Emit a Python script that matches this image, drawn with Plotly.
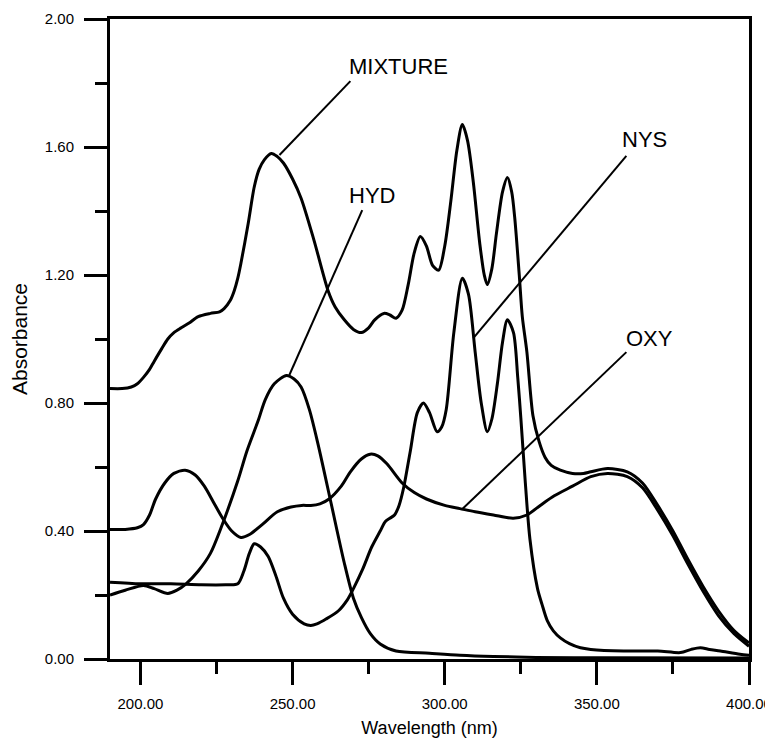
import plotly.graph_objects as go

# ---- data ----
mix_x = [190, 194, 197, 199, 201, 203, 204.5, 207, 209, 211, 213.4, 216, 219, 223, 226, 227.5, 229.5,
         230.8, 232, 233, 235.4, 237.4, 239, 240.7, 243, 245, 247, 250, 252.8, 257, 261.7, 264, 267,
         270, 272.6, 275, 277, 280, 282, 284, 286, 288, 290, 292, 294, 296, 298, 300, 302, 304, 305.8,
         307.5, 309.4, 311.5, 313, 314, 315.5, 317, 319, 320.6, 322, 323, 324.5, 325.5, 327, 329, 331,
         333, 335, 338, 342, 345.6, 348, 353.5, 360, 365, 370, 375, 380, 385, 390, 395, 400]
mix_y = [0.845, 0.845, 0.85, 0.86, 0.88, 0.905, 0.93, 0.97, 1.00, 1.02, 1.035, 1.05, 1.07, 1.08, 1.085,
         1.095, 1.12, 1.15, 1.19, 1.235, 1.36, 1.475, 1.53, 1.56, 1.58, 1.57, 1.55, 1.50, 1.44, 1.31,
         1.15, 1.10, 1.06, 1.03, 1.02, 1.035, 1.06, 1.08, 1.075, 1.065, 1.09, 1.17, 1.27, 1.32, 1.29,
         1.23, 1.215, 1.29, 1.43, 1.59, 1.67, 1.62, 1.49, 1.30, 1.20, 1.17, 1.22, 1.33, 1.46, 1.505,
         1.46, 1.38, 1.20, 1.07, 0.96, 0.76, 0.68, 0.63, 0.605, 0.59, 0.58, 0.58, 0.585, 0.595, 0.585,
         0.55, 0.48, 0.40, 0.31, 0.225, 0.15, 0.09, 0.05]

hyd_x = [190, 195, 201, 204.5, 209, 212, 215, 219, 223, 226.5, 232, 235, 238.7, 241, 244, 248, 250.5,
         252.8, 255.5, 258.4, 262.7, 267, 270, 272.6, 275.5, 278.8, 284, 295, 305, 316, 330, 350, 400]
hyd_y = [0.20, 0.215, 0.23, 0.22, 0.205, 0.215, 0.235, 0.275, 0.33, 0.41, 0.557, 0.65, 0.745, 0.81,
         0.86, 0.886, 0.875, 0.85, 0.78, 0.67, 0.485, 0.30, 0.19, 0.13, 0.08, 0.047, 0.025, 0.018,
         0.012, 0.008, 0.005, 0.004, 0.003]

nys_x = [190, 200, 210, 220, 228, 232, 234, 235.8, 237.4, 239.5, 242, 244.5, 247, 250, 253.8, 256, 258,
         261, 265, 268, 270, 273, 276, 278.8, 280.5, 282, 283.5, 285, 286.5, 288.7, 291, 293, 295,
         297.5, 299, 300.5, 303, 305.8, 307.8, 310, 312, 314, 315.5, 317.3, 319, 320.6, 322.6, 324,
         325, 326.5, 328, 330.5, 332, 333.7, 335.7, 338, 341, 344.6, 348, 358.8, 370, 377.5, 381, 384,
         387, 390.6, 397, 400]
nys_y = [0.24, 0.235, 0.235, 0.232, 0.232, 0.235, 0.275, 0.33, 0.36, 0.35, 0.32, 0.26, 0.19, 0.14,
         0.11, 0.105, 0.11, 0.125, 0.15, 0.185, 0.22, 0.28, 0.35, 0.40, 0.43, 0.44, 0.45, 0.48, 0.535,
         0.65, 0.77, 0.80, 0.77, 0.71, 0.725, 0.78, 1.02, 1.19, 1.14, 0.96, 0.80, 0.71, 0.75, 0.86,
         0.99, 1.06, 1.02, 0.88, 0.755, 0.55, 0.375, 0.22, 0.17, 0.12, 0.088, 0.066, 0.048, 0.035,
         0.03, 0.025, 0.025, 0.02, 0.03, 0.035, 0.03, 0.025, 0.015, 0.012]

oxy_x = [190, 195, 199, 201, 203, 205, 208, 211, 214.7, 218, 221, 224, 227, 230, 233, 236, 240, 245,
         249.5, 253, 256, 259, 262, 266, 269, 272.6, 275.5, 278, 281, 286, 290, 294, 300, 305, 310,
         316, 322.5, 327, 331.4, 336, 342, 348, 353.5, 360, 365, 370, 375, 380, 385, 390, 395, 400]
oxy_y = [0.405, 0.405, 0.41, 0.42, 0.45, 0.50, 0.55, 0.58, 0.59, 0.575, 0.54, 0.49, 0.44, 0.40, 0.38,
         0.39, 0.42, 0.46, 0.475, 0.48, 0.48, 0.485, 0.50, 0.54, 0.585, 0.625, 0.64, 0.635, 0.61, 0.55,
         0.52, 0.50, 0.48, 0.47, 0.46, 0.45, 0.44, 0.45, 0.48, 0.51, 0.54, 0.57, 0.58, 0.57, 0.535,
         0.465, 0.385, 0.295, 0.21, 0.135, 0.08, 0.04]

# label texts, label anchor positions and leader lines (data coords)
labels = ["MIXTURE", "HYD", "NYS", "OXY"]
label_pos = [(284.9, 1.853), (276.1, 1.45), (365.8, 1.622), (367.3, 1.003)]
leader_start = [(269.0, 1.806), (272.9, 1.403), (359.7, 1.572), (359.7, 0.959)]
leader_end = [(245.7, 1.575), (248.95, 0.8875), (309.4, 1.003), (305.8, 0.469)]

x_ticks = [200, 250, 300, 350, 400]
y_ticks = [0.0, 0.4, 0.8, 1.2, 1.6, 2.0]

FONT = "Liberation Sans, Arial, sans-serif"

fig = go.Figure()
for xs, ys, nm in [(oxy_x, oxy_y, "OXY"), (hyd_x, hyd_y, "HYD"),
                   (nys_x, nys_y, "NYS"), (mix_x, mix_y, "MIXTURE")]:
    fig.add_trace(go.Scatter(x=xs, y=ys, mode="lines", name=nm,
                             line=dict(color="black", width=3, shape="spline", smoothing=0.8),
                             showlegend=False, hoverinfo="skip"))

for (x0, y0), (x1, y1) in zip(leader_start, leader_end):
    fig.add_shape(type="line", xref="x", yref="y", x0=x0, y0=y0, x1=x1, y1=y1,
                  line=dict(color="black", width=2))

for t, (x, y) in zip(labels, label_pos):
    fig.add_annotation(x=x, y=y, xref="x", yref="y", text=t, showarrow=False,
                       font=dict(family=FONT, size=22, color="black"))

fig.update_layout(
    width=773, height=746,
    margin=dict(l=102, r=32, t=11, b=95),
    paper_bgcolor="white", plot_bgcolor="white",
    font=dict(family=FONT, color="black"),
)
fig.update_xaxes(
    range=[190, 400], tickvals=x_ticks, tickformat=".2f", automargin=False,
    ticks="outside", ticklen=23, tickwidth=3, tickcolor="black",
    minor=dict(dtick=25, tick0=200, ticks="outside", ticklen=12, tickwidth=3, tickcolor="black"),
    showline=True, linewidth=3, linecolor="black", mirror=True,
    showgrid=False, zeroline=False,
    tickfont=dict(family=FONT, size=15, color="black"),
    ticklabelstandoff=6,
    title=dict(text="Wavelength (nm)", font=dict(family=FONT, size=18, color="black"), standoff=11),
)
fig.update_yaxes(
    range=[0, 2.0], tickvals=y_ticks, tickformat=".2f", automargin=False,
    ticks="outside", ticklen=23, tickwidth=3, tickcolor="black",
    minor=dict(dtick=0.2, tick0=0, ticks="outside", ticklen=12, tickwidth=3, tickcolor="black"),
    showline=True, linewidth=3, linecolor="black", mirror=True,
    showgrid=False, zeroline=False,
    tickfont=dict(family=FONT, size=15, color="black"),
    ticklabelstandoff=7,
    title=dict(text="Absorbance", font=dict(family=FONT, size=21, color="black"), standoff=12),
)

fig.write_html("out.html")
